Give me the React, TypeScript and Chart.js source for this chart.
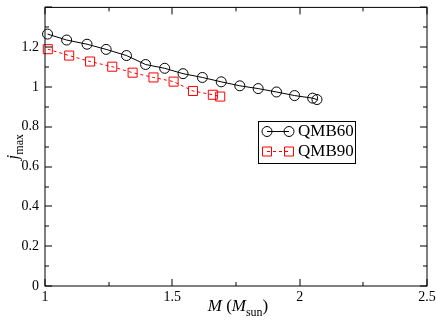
import React, { useEffect, useRef } from "react";
import { Chart, registerables } from "chart.js";

Chart.register(...registerables);

const qmb60X = [1.01, 1.085, 1.165, 1.24, 1.32, 1.395, 1.47, 1.542, 1.618, 1.692, 1.765, 1.837, 1.909, 1.98, 2.051, 2.068];
const qmb60Y = [1.266, 1.236, 1.215, 1.189, 1.158, 1.113, 1.094, 1.067, 1.048, 1.026, 1.006, 0.992, 0.975, 0.957, 0.944, 0.937];
const qmb90X = [1.011, 1.095, 1.177, 1.264, 1.344, 1.426, 1.505, 1.581, 1.659, 1.688];
const qmb90Y = [1.19, 1.158, 1.128, 1.102, 1.072, 1.048, 1.027, 0.98, 0.961, 0.952];
const seriesNames = ["QMB60", "QMB90"];
const xRange = [1, 2.5];
const yRange = [0, 1.4];
const xStep = 0.5;
const yStep = 0.2;

const SERIF = "'Liberation Serif', 'Times New Roman', serif";

function drawParts(ctx: CanvasRenderingContext2D, parts: { t: string; f: string; dy: number }[], x: number, y: number, align: "center" | "left") {
  let total = 0;
  for (const p of parts) {
    ctx.font = p.f;
    total += ctx.measureText(p.t).width;
  }
  let cx = align === "center" ? x - total / 2 : x;
  ctx.textAlign = "left";
  ctx.textBaseline = "alphabetic";
  for (const p of parts) {
    ctx.font = p.f;
    ctx.fillText(p.t, cx, y + p.dy);
    cx += ctx.measureText(p.t).width;
  }
}

const framePlugin = {
  id: "frame",
  afterDraw(chart: any) {
    const { ctx, chartArea: a, scales } = chart;
    const xs = scales.x;
    const ys = scales.y;
    ctx.save();
    ctx.strokeStyle = "#000";
    ctx.lineWidth = 1;
    ctx.strokeRect(a.left, a.top, a.right - a.left, a.bottom - a.top);
    const major = 7;
    const minor = 4;
    const xv: number[] = xs.ticks.map((t: any) => t.value);
    const yv: number[] = ys.ticks.map((t: any) => t.value);
    const tickX = (v: number, len: number) => {
      const px = Math.round(xs.getPixelForValue(v));
      ctx.beginPath();
      ctx.moveTo(px, a.bottom);
      ctx.lineTo(px, a.bottom - len);
      ctx.moveTo(px, a.top);
      ctx.lineTo(px, a.top + len);
      ctx.stroke();
    };
    const tickY = (v: number, len: number) => {
      const py = Math.round(ys.getPixelForValue(v));
      ctx.beginPath();
      ctx.moveTo(a.left, py);
      ctx.lineTo(a.left + len, py);
      ctx.moveTo(a.right, py);
      ctx.lineTo(a.right - len, py);
      ctx.stroke();
    };
    for (let i = 0; i < xv.length; i++) {
      tickX(xv[i], major);
      if (i + 1 < xv.length) tickX((xv[i] + xv[i + 1]) / 2, minor);
    }
    for (let i = 0; i < yv.length; i++) {
      tickY(yv[i], major);
      if (i + 1 < yv.length) tickY((yv[i] + yv[i + 1]) / 2, minor);
    }

    // axis titles
    ctx.fillStyle = "#000";
    const cxTitle = (a.left + a.right) / 2;
    drawParts(ctx, [
      { t: "M", f: `italic 17px ${SERIF}`, dy: 0 },
      { t: " (", f: `17px ${SERIF}`, dy: 0 },
      { t: "M", f: `italic 17px ${SERIF}`, dy: 0 },
      { t: "sun", f: `12px ${SERIF}`, dy: 5 },
      { t: ")", f: `17px ${SERIF}`, dy: 0 },
    ], cxTitle + 2, 311, "center");

    ctx.save();
    ctx.translate(18, (a.top + a.bottom) / 2);
    ctx.rotate(-Math.PI / 2);
    drawParts(ctx, [
      { t: "j", f: `italic 17px ${SERIF}`, dy: 0 },
      { t: "max", f: `12px ${SERIF}`, dy: 5 },
    ], 0, 0, "center");
    ctx.restore();

    // legend
    const bx = 258, by = 121, bw = 97, bh = 42;
    ctx.strokeStyle = "#000";
    ctx.lineWidth = 1;
    ctx.strokeRect(bx + 0.5, by + 0.5, bw, bh);
    const rows = [
      { y: 131.5, color: "#000", dash: [] as number[], shape: "circle" },
      { y: 151.5, color: "#ff0000", dash: [3, 3], shape: "rect" },
    ];
    rows.forEach((r, i) => {
      const x1 = 267, x2 = 289;
      ctx.strokeStyle = r.color;
      ctx.setLineDash(r.dash);
      ctx.beginPath();
      ctx.moveTo(x1, r.y);
      ctx.lineTo(x2, r.y);
      ctx.stroke();
      ctx.setLineDash([]);
      for (const px of [x1, x2]) {
        ctx.beginPath();
        if (r.shape === "circle") ctx.arc(px, r.y, 5, 0, Math.PI * 2);
        else ctx.rect(px - 4.5, r.y - 4.5, 9, 9);
        ctx.stroke();
      }
      ctx.fillStyle = "#000";
      ctx.font = `17px ${SERIF}`;
      ctx.textAlign = "left";
      ctx.textBaseline = "middle";
      ctx.fillText(seriesNames[i], 298, r.y);
    });
    ctx.restore();
  },
};

export default function App() {
  const ref = useRef<HTMLCanvasElement | null>(null);
  useEffect(() => {
    if (!ref.current) return;
    const chart = new Chart(ref.current, {
      type: "line",
      data: {
        datasets: [
          {
            label: seriesNames[0],
            data: qmb60X.map((x, i) => ({ x, y: qmb60Y[i] })),
            borderColor: "#000",
            borderWidth: 1,
            pointStyle: "circle",
            pointRadius: 5,
            pointBorderColor: "#000",
            pointBackgroundColor: "transparent",
            pointBorderWidth: 1,
            tension: 0,
            clip: false as any,
          },
          {
            label: seriesNames[1],
            data: qmb90X.map((x, i) => ({ x, y: qmb90Y[i] })),
            borderColor: "#ff0000",
            borderWidth: 1,
            borderDash: [3, 3],
            pointStyle: "rect",
            pointRadius: 6.4,
            pointBorderColor: "#ff0000",
            pointBackgroundColor: "transparent",
            pointBorderWidth: 1,
            tension: 0,
            clip: false as any,
          },
        ],
      },
      options: {
        animation: false,
        responsive: false,
        layout: { padding: { top: 2, right: 9, left: 0, bottom: 0 } },
        plugins: { legend: { display: false }, tooltip: { enabled: false } },
        scales: {
          x: {
            type: "linear",
            min: xRange[0],
            max: xRange[1],
            grid: { display: false, drawTicks: false },
            border: { display: false },
            ticks: {
              stepSize: xStep,
              color: "#000",
              font: { family: SERIF, size: 14 },
              padding: 3,
              maxRotation: 0,
              callback: (v: any) => String(Math.round(Number(v) * 10) / 10),
            },
            afterFit: (s: any) => {
              s.height = 38;
              s.paddingLeft = 0;
              s.paddingRight = 0;
            },
          },
          y: {
            type: "linear",
            min: yRange[0],
            max: yRange[1],
            grid: { display: false, drawTicks: false },
            border: { display: false },
            ticks: {
              stepSize: yStep,
              color: "#000",
              font: { family: SERIF, size: 14 },
              padding: 6,
              callback: (v: any) => {
                const n = Math.round(Number(v) * 10) / 10;
                return n >= yRange[1] ? "" : String(n);
              },
            },
            afterFit: (s: any) => {
              s.width = 45;
              s.paddingTop = 0;
              s.paddingBottom = 0;
            },
          },
        },
      },
      plugins: [framePlugin],
    });
    return () => chart.destroy();
  }, []);
  return (
    <div style={{ position: "absolute", left: 0, top: 0, width: 436, height: 324 }}>
      <canvas ref={ref} width={436} height={324} style={{ display: "block", width: 436, height: 324 }} />
    </div>
  );
}
